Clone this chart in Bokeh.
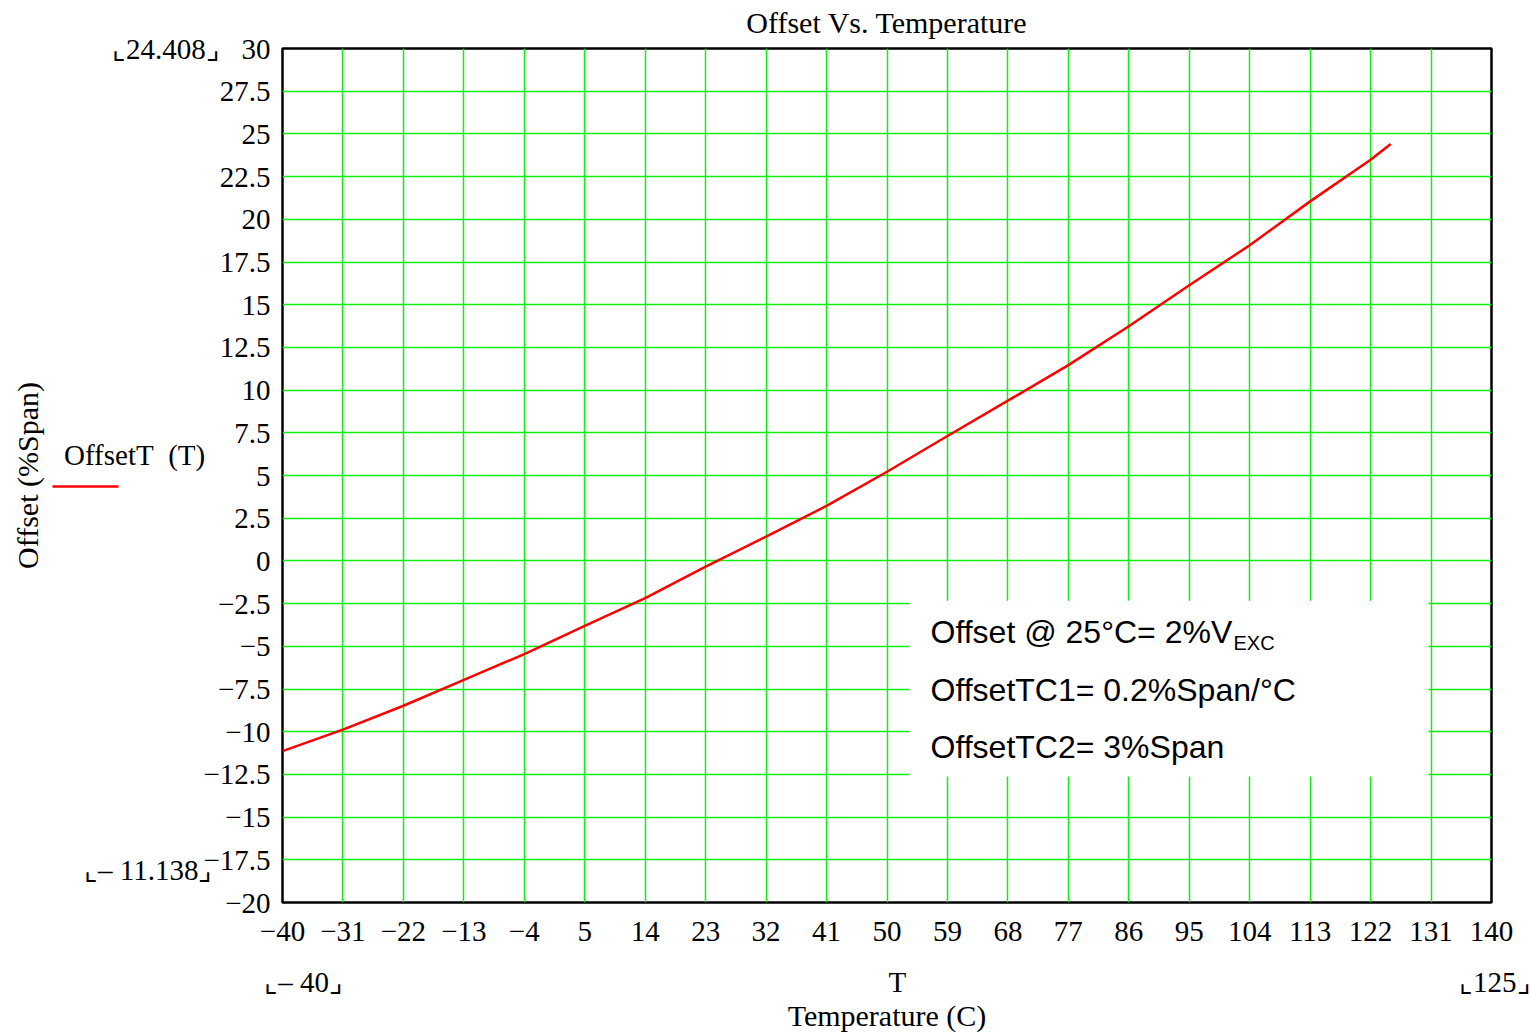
from bokeh.plotting import figure
from bokeh.models import (Range1d, FixedTicker, Label, BoxAnnotation, LinearAxis)
from bokeh.embed import file_html
from bokeh.resources import INLINE

# ---- data ----
temps = [-40, -31, -22, -13, -4, 5, 14, 23, 32, 41, 50, 59, 68, 77, 86, 95, 104, 113, 122, 125]
offsets = [-11.138, -9.88, -8.48, -6.96, -5.46, -3.80, -2.18, -0.33, 1.42, 3.22,
           5.22, 7.31, 9.38, 11.46, 13.74, 16.14, 18.48, 21.05, 23.49, 24.408]

x_ticks = [-40, -31, -22, -13, -4, 5, 14, 23, 32, 41, 50, 59, 68, 77, 86, 95, 104, 113, 122, 131, 140]
x_tick_labels = ["\u221240", "\u221231", "\u221222", "\u221213", "\u22124", "5", "14", "23", "32", "41",
                 "50", "59", "68", "77", "86", "95", "104", "113", "122", "131", "140"]
y_ticks = [-20, -17.5, -15, -12.5, -10, -7.5, -5, -2.5, 0, 2.5, 5, 7.5, 10, 12.5, 15, 17.5, 20, 22.5, 25, 27.5, 30]
y_tick_labels = ["\u221220", "\u221217.5", "\u221215", "\u221212.5", "\u221210", "\u22127.5", "\u22125", "\u22122.5",
                 "0", "2.5", "5", "7.5", "10", "12.5", "15", "17.5", "20", "22.5", "25", "27.5", "30"]

# Mathcad range-limit / legend markers (value where shown, text)
NB = "\u00a0"
y_extra_pos = [29.99, 6.2, -18.07]
y_extra_labels = ["\u231e24.408\u231f" + NB * 7, "OffsetT" + NB * 2 + "(T)" + NB * 9, "\u231e\u2013 11.138\u231f" + NB * 8]
legend_line_pos = [4.33]          # level of the legend's red sample line
x_extra_pos = [-36.87, 51.56, 139.99]
x_extra_labels = ["\u231e\u2013 40\u231f", "T", NB * 2 + "\u231e125\u231f"]

title_text = "Offset Vs. Temperature"
x_title = "Temperature (C)"
y_title = "Offset (%Span)"
notes = ["Offset @ 25\u00b0C= 2%V", "OffsetTC1= 0.2%Span/\u00b0C", "OffsetTC2= 3%Span"]

SERIF = "Liberation Serif"
SANS = "Liberation Sans"

p = figure(width=1530, height=1034, output_backend="svg", toolbar_location=None,
           x_range=Range1d(-40, 140), y_range=Range1d(-20, 30),
           min_border_left=282, min_border_right=39, min_border_top=48, min_border_bottom=131)
p.background_fill_color = "white"
p.border_fill_color = "white"
p.outline_line_color = "black"
p.outline_line_width = 2.5


def style_axis(ax, ticks, labels, standoff):
    ax.ticker = FixedTicker(ticks=ticks)
    ax.major_label_overrides = {t: l for t, l in zip(ticks, labels)}
    ax.axis_line_color = None
    ax.major_tick_line_color = None
    ax.minor_tick_line_color = None
    ax.major_tick_out = 0
    ax.major_tick_in = 0
    ax.major_label_text_font = SERIF
    ax.major_label_text_font_size = "29px"
    ax.major_label_text_color = "black"
    ax.major_label_standoff = standoff
    ax.axis_label_text_font = SERIF
    ax.axis_label_text_font_size = "30px"
    ax.axis_label_text_font_style = "normal"
    ax.axis_label_text_color = "black"


style_axis(p.xaxis[0], x_ticks, x_tick_labels, 19)
style_axis(p.yaxis[0], y_ticks + y_extra_pos, y_tick_labels + y_extra_labels, 12)
p.yaxis[0].axis_label = y_title
p.yaxis[0].axis_label_standoff = 17

x2 = LinearAxis()
style_axis(x2, x_extra_pos, x_extra_labels, 22)
x2.axis_label = x_title
x2.axis_label_standoff = -2
p.add_layout(x2, "below")

top = LinearAxis()
style_axis(top, [], [], 0)
top.axis_label = title_text
top.axis_label_standoff = 10
p.add_layout(top, "above")

# legend sample line of "OffsetT (T)": a single red tick reaching left of the frame
leg_axis = LinearAxis()
style_axis(leg_axis, legend_line_pos, [""], 0)
leg_axis.major_tick_line_color = "#ff0000"
leg_axis.major_tick_line_width = 2.5
leg_axis.major_tick_in = 1491 - 52
leg_axis.major_tick_out = -(1491 - 118)
p.add_layout(leg_axis, "right")

p.xgrid.ticker = FixedTicker(ticks=x_ticks)
p.ygrid.ticker = FixedTicker(ticks=y_ticks)
for g in (p.xgrid[0], p.ygrid[0]):
    g.grid_line_color = "#11ee11"
    g.grid_line_width = 1.5

p.line(temps, offsets, line_color="#ff0000", line_width=2.5)

# white annotation box
p.add_layout(BoxAnnotation(left=53.35, right=130.6, top=-2.34, bottom=-12.63,
                           fill_color="white", fill_alpha=1.0, line_color=None))


def lab(text, px, py, size, font):
    p.add_layout(Label(x=px - 282, y=903 - py, x_units="screen", y_units="screen", text=text,
                       text_font=font, text_font_size=size, text_align="left",
                       text_baseline="middle", text_color="black"))


lab(notes[0], 930, 632, "32px", SANS)
lab("EXC", 1233, 643, "20px", SANS)
lab(notes[1], 930, 690, "32px", SANS)
lab(notes[2], 930, 747, "32px", SANS)

open("out.html", "w").write(file_html(p, INLINE))
